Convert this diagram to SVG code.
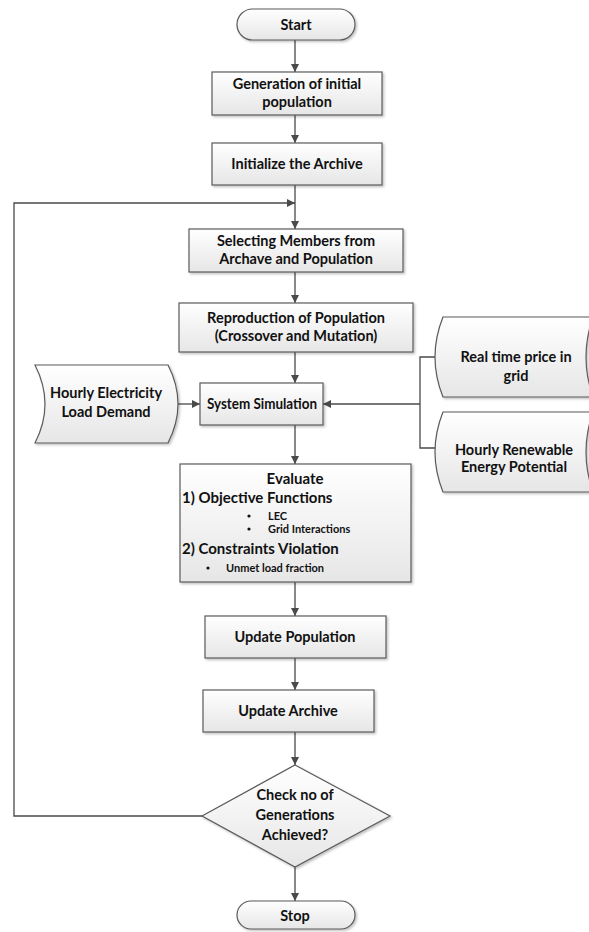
<svg xmlns="http://www.w3.org/2000/svg" width="589" height="932" viewBox="0 0 589 932">
<defs>
<linearGradient id="g" x1="0" y1="0" x2="0" y2="1">
<stop offset="0" stop-color="#ffffff"/>
<stop offset="1" stop-color="#e6e6e6"/>
</linearGradient>
<filter id="sh" x="-10%" y="-10%" width="130%" height="140%">
<feDropShadow dx="1.5" dy="1.5" stdDeviation="1" flood-color="#000" flood-opacity="0.25"/>
</filter>
<marker id="ah" viewBox="0 0 10 10" refX="10" refY="5" markerWidth="8" markerHeight="8" markerUnits="userSpaceOnUse" orient="auto">
<path d="M0,0 L10,5 L0,10 Z" fill="#4a4a4a"/>
</marker>
</defs>
<style>
.s{fill:url(#g);stroke:#5a5a5a;stroke-width:1.2;filter:url(#sh)}
.t{font-family:Lato,"Liberation Sans",sans-serif;font-weight:bold;font-size:14.5px;fill:#111;text-anchor:middle}
.sm{font-family:Lato,"Liberation Sans",sans-serif;font-weight:bold;font-size:11px;fill:#111}
.bg{font-family:Lato,"Liberation Sans",sans-serif;font-weight:bold;font-size:15px;fill:#111}
.c{fill:none;stroke:#4a4a4a;stroke-width:1.3}
.ca{fill:none;stroke:#4a4a4a;stroke-width:1.3;marker-end:url(#ah)}
</style>
<rect width="589" height="932" fill="#fff"/>
<g id="connectors">
<line class="ca" x1="295" y1="40" x2="295" y2="72"/>
<line class="ca" x1="295" y1="115" x2="295" y2="143"/>
<line class="c" x1="295" y1="185" x2="295" y2="203"/>
<line class="ca" x1="295" y1="203" x2="295" y2="229"/>
<line class="ca" x1="295" y1="272" x2="295" y2="303"/>
<line class="ca" x1="295" y1="352" x2="295" y2="383"/>
<line class="ca" x1="178" y1="404" x2="200" y2="404"/>
<polyline class="c" points="435,357 420,357 420,448 435,448"/>
<line class="ca" x1="420" y1="404" x2="323" y2="404"/>
<line class="ca" x1="295" y1="425" x2="295" y2="464"/>
<line class="ca" x1="295" y1="582" x2="295" y2="616"/>
<line class="ca" x1="295" y1="658" x2="295" y2="690"/>
<line class="ca" x1="295" y1="732" x2="295" y2="765"/>
<polyline class="ca" points="202,816 14,816 14,203 295,203"/>
<line class="ca" x1="295" y1="867" x2="295" y2="901"/>
</g>
<g id="start">
<rect class="s" x="237" y="9" width="118" height="31" rx="15.5"/>
<text class="t" x="296" y="30">Start</text>
</g>
<g id="generation">
<rect class="s" x="212" y="72" width="170" height="43"/>
<text class="t" x="297" y="89">Generation of initial</text>
<text class="t" x="297" y="107">population</text>
</g>
<g id="initialize">
<rect class="s" x="212" y="143" width="170" height="42"/>
<text class="t" x="297" y="169">Initialize the Archive</text>
</g>
<g id="select">
<rect class="s" x="189" y="229" width="214" height="43"/>
<text class="t" x="296" y="246">Selecting Members from</text>
<text class="t" x="296" y="264">Archave and Population</text>
</g>
<g id="reproduction">
<rect class="s" x="179" y="303" width="234" height="49"/>
<text class="t" x="296" y="323">Reproduction of Population</text>
<text class="t" x="296" y="341">(Crossover and Mutation)</text>
</g>
<g id="load">
<path class="s" d="M35,365 L168,365 Q188,404 168,443 L35,443 Q55,404 35,365 Z"/>
<text class="t" x="106" y="398">Hourly Electricity</text>
<text class="t" x="106" y="417">Load Demand</text>
</g>
<g id="simulation">
<rect class="s" x="200" y="383" width="123" height="42"/>
<text class="t" x="262" y="409" textLength="110" lengthAdjust="spacingAndGlyphs">System Simulation</text>
</g>
<g id="price">
<path class="s" d="M443,317 L593,317 Q579,357 593,397 L443,397 Q427,357 443,317 Z"/>
<text class="t" x="516" y="362">Real time price in</text>
<text class="t" x="516" y="381">grid</text>
</g>
<g id="renewable">
<path class="s" d="M443,412 L593,412 Q579,452 593,492 L443,492 Q427,452 443,412 Z"/>
<text class="t" x="514" y="455">Hourly Renewable</text>
<text class="t" x="514" y="472">Energy Potential</text>
</g>
<g id="evaluate">
<rect class="s" x="180" y="464" width="231" height="118"/>
<text class="t" x="295" y="484" style="font-size:15px">Evaluate</text>
<text class="bg" x="182" y="503">1) Objective Functions</text>
<circle cx="249" cy="516" r="1.6" fill="#111"/>
<text class="sm" x="268" y="520">LEC</text>
<circle cx="249" cy="529" r="1.6" fill="#111"/>
<text class="sm" x="268" y="533">Grid Interactions</text>
<text class="bg" x="182" y="554">2) Constraints Violation</text>
<circle cx="208" cy="568" r="1.6" fill="#111"/>
<text class="sm" x="226" y="572">Unmet load fraction</text>
</g>
<g id="updatepop">
<rect class="s" x="205" y="616" width="181" height="42"/>
<text class="t" x="295" y="642">Update Population</text>
</g>
<g id="updatearch">
<rect class="s" x="203" y="690" width="171" height="42"/>
<text class="t" x="288" y="716">Update Archive</text>
</g>
<g id="check">
<polygon class="s" points="295,765 390,816 295,867 202,816"/>
<text class="t" x="295" y="800">Check no of</text>
<text class="t" x="295" y="820">Generations</text>
<text class="t" x="295" y="840">Achieved?</text>
</g>
<g id="stop">
<rect class="s" x="237" y="901" width="118" height="28" rx="14"/>
<text class="t" x="295" y="921">Stop</text>
</g>
</svg>
